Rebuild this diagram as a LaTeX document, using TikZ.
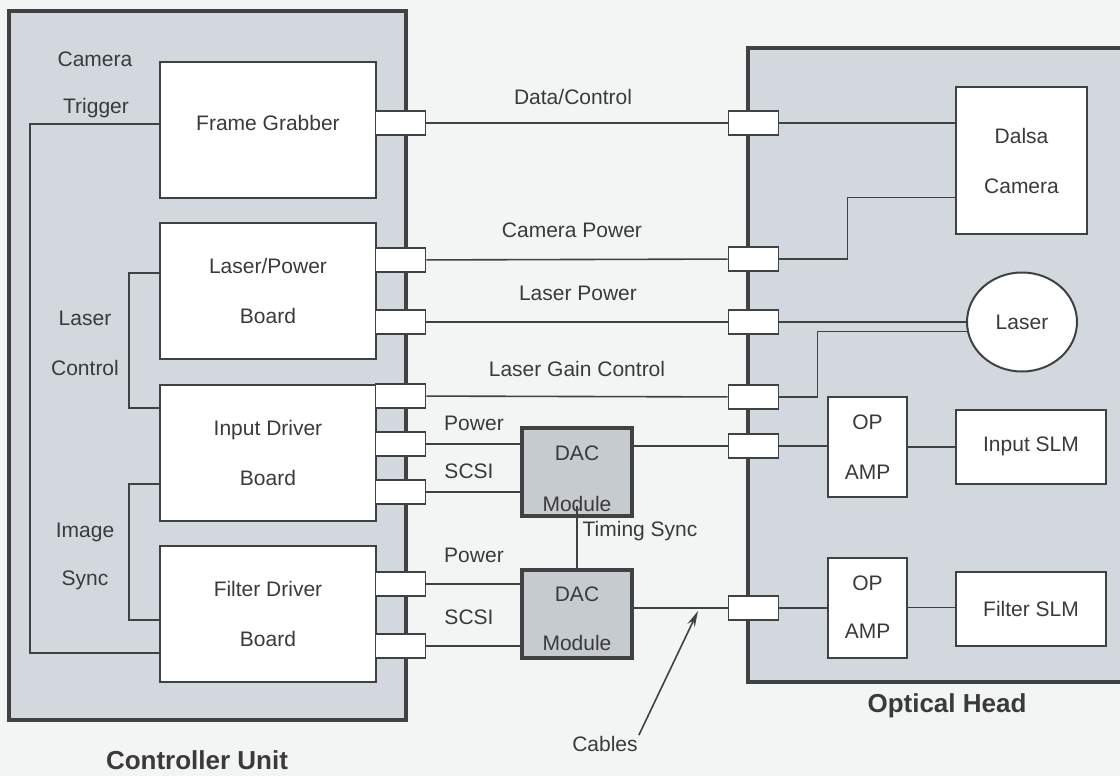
\documentclass[tikz,border=0pt]{standalone}
\usepackage{fontspec}
\setmainfont{Liberation Sans}
\usepackage{tikz}
\usetikzlibrary{shapes.geometric,arrows.meta,positioning,calc}
\definecolor{PageGray}{HTML}{F3F5F5}
\definecolor{PanelGray}{HTML}{D2D8DD}
\definecolor{ModuleGray}{HTML}{C6CBD0}
\definecolor{LineGray}{HTML}{3E4243}
\definecolor{TextGray}{HTML}{3A3A3A}
\tikzset{
    % Base node style
    basenode/.style={
        draw=LineGray,
        fill=white,
        line width=2pt,
        align=center,
        text=TextGray,
        font=\fontsize{21}{25}\selectfont
    },
    % Unit panel style
    panelnode/.style={
        basenode,
        fill=PanelGray,
        line width=3.5pt
    },
    % Board style
    boardnode/.style={
        basenode,
        minimum width=216pt,
        minimum height=136pt
    },
    % DAC module style
    dacnode/.style={
        basenode,
        fill=ModuleGray,
        line width=3.5pt,
        minimum width=110pt,
        minimum height=88pt
    },
    % Plug style
    plugnode/.style={
        basenode,
        line width=1.8pt,
        minimum width=50pt,
        minimum height=24pt,
        inner sep=0pt
    },
    % Op amp style
    ampnode/.style={
        basenode,
        minimum width=79pt,
        minimum height=100pt
    },
    % SLM style
    slmnode/.style={
        basenode,
        minimum width=150pt,
        minimum height=74pt
    },
    % Text label
    labelnode/.style={
        text=TextGray,
        font=\fontsize{21}{25}\selectfont,
        inner sep=1pt
    },
    % Title label
    titlenode/.style={
        text=TextGray,
        font=\fontsize{26}{30}\selectfont\bfseries
    },
    % Cable line
    cableline/.style={
        draw=LineGray,
        line width=1.6pt
    },
    % Pointer arrow
    myarrow/.style={
        -{Stealth[length=16pt,width=8pt]},
        draw=LineGray,
        line width=1.6pt
    }
}

\begin{document}
\begin{tikzpicture}[x=1pt, y=-1pt]
    \useasboundingbox (0,0) rectangle (1120,776);
    \clip (0,0) rectangle (1120,776);
    \fill[PageGray] (0,0) rectangle (1120,776);

    % Units
    \node[panelnode, minimum width=397pt, minimum height=709pt] (ctrl) at (207.5,365.5) {};
    \node[panelnode, minimum width=390pt, minimum height=634pt] (head) at (943,365) {};
    \node[titlenode] (ctrltitle) at (197,760) {Controller Unit};
    \node[titlenode] (headtitle) at (947,706) {Optical Head};

    % Boards
    \node[boardnode, text depth=14pt] (grab) at (268,130) {Frame Grabber};
    \node[boardnode] (lpb) at (268,291) {Laser/Power\\[25pt]Board};
    \node[boardnode] (idb) at (268,453) {Input Driver\\[25pt]Board};
    \node[boardnode] (fdb) at (268,614) {Filter Driver\\[25pt]Board};

    % Plugs
    \foreach \y [count=\i] in {123,260,322,396,444,492,584,646}
        \node[plugnode] (lp\i) at (400.5,\y) {};
    \foreach \y [count=\i] in {123,259,322,397,446,608}
        \node[plugnode] (rp\i) at (753.5,\y) {};

    % DAC modules
    \node[dacnode] (dac1) at (577,472) {\rule{0pt}{29pt}DAC\\[26pt]Module};
    \node[dacnode] (dac2) at (577,614) {\rule{0pt}{25pt}DAC\\[24pt]Module};

    % Optical head parts
    \node[basenode, minimum width=131pt, minimum height=147pt] (dalsa) at (1021.5,160.5) {Dalsa\\[25pt]Camera};
    \node[basenode, ellipse, minimum width=110pt, minimum height=99pt, inner sep=0pt] (laser) at (1022,322) {Laser};
    \node[ampnode] (amp1) at (867.5,447) {OP\\[25pt]AMP};
    \node[ampnode] (amp2) at (867.5,607.5) {OP\\[23pt]AMP};
    \node[slmnode] (islm) at (1031,446.5) {Input SLM};
    \node[slmnode] (fslm) at (1031,608.5) {Filter SLM};

    % Labels
    \node[labelnode] (camlbl) at (95,59) {Camera};
    \node[labelnode] (triglbl) at (96,108) {Trigger};
    \node[labelnode] (laslbl) at (85,318) {Laser};
    \node[labelnode] (ctllbl) at (85,368) {Control};
    \node[labelnode] (imglbl) at (85,532) {Image};
    \node[labelnode] (synclbl) at (85,580) {Sync};
    \node[labelnode] (datalbl) at (573,97) {Data/Control};
    \node[labelnode] (cpwrlbl) at (572,230) {Camera Power};
    \node[labelnode] (lpwrlbl) at (578,293) {Laser Power};
    \node[labelnode] (gainlbl) at (577,369) {Laser Gain Control};
    \node[labelnode] (pwr1lbl) at (474,423) {Power};
    \node[labelnode] (scsi1lbl) at (469,471) {SCSI};
    \node[labelnode] (pwr2lbl) at (474,555) {Power};
    \node[labelnode] (scsi2lbl) at (469,617) {SCSI};
    \node[labelnode] (timelbl) at (640,531) {Timing Sync};
    \node[labelnode] (cablelbl) at (605,744) {Cables};

    % Cables between units
    \draw[cableline] (lp1) -- (rp1);
    \draw[cableline] (lp2) -- (rp2);
    \draw[cableline] (lp3) -- (rp3);
    \draw[cableline] (lp4) -- (rp4);
    \draw[cableline] (lp5) -- (lp5 -| dac1.west);
    \draw[cableline] (lp6) -- (lp6 -| dac1.west);
    \draw[cableline] (lp7) -- (lp7 -| dac2.west);
    \draw[cableline] (lp8) -- (lp8 -| dac2.west);
    \draw[cableline] (dac1.east |- rp5) -- (rp5);
    \draw[cableline] (dac2.east |- rp6) -- (rp6);
    \draw[cableline] ([yshift=12pt]dac1.south) -- (dac2.north);

    % Inside the optical head
    \draw[cableline] (rp1) -- (rp1 -| dalsa.west);
    \draw[cableline] (rp2.east) -- ++(68,0) |- ([yshift=-37pt]dalsa.west);
    \draw[cableline] (rp3) -- (laser);
    \draw[cableline] (rp4.east) -- ++(38,0) |- (laser.190);
    \draw[cableline] (rp5) -- (rp5 -| amp1.west);
    \draw[cableline] (amp1.east) -- (amp1.east -| islm.west);
    \draw[cableline] (rp6) -- (rp6 -| amp2.west);
    \draw[cableline] (amp2.east) -- (amp2.east -| fslm.west);

    % Inside the controller unit
    \draw[cableline] ([yshift=6pt]grab.west) -- ++(-129,0) |- ([yshift=-39pt]fdb.west);
    \draw[cableline] ([yshift=18pt]lpb.west) -- ++(-30,0) |- ([yshift=45pt]idb.west);
    \draw[cableline] ([yshift=-31pt]idb.west) -- ++(-30,0) |- ([yshift=-6pt]fdb.west);

    % Pointer
    \coordinate (cabtip) at (698,611);
    \draw[myarrow] (cablelbl.north east) -- (cabtip);
\end{tikzpicture}
\end{document}
